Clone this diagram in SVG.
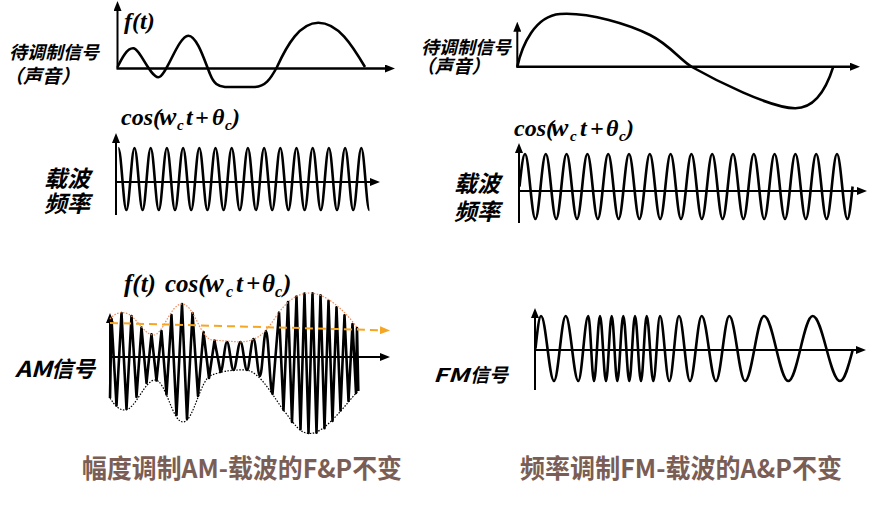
<svg xmlns="http://www.w3.org/2000/svg" width="896" height="512" viewBox="0 0 896 512">
<defs>
<style>
.ax{stroke:#000;stroke-width:2;fill:none;marker-end:url(#ah)}
.axt{stroke:#000;stroke-width:2.6;fill:none;marker-end:url(#ah)}
.wave{stroke:#000;stroke-width:2.6;fill:none;stroke-linejoin:round}
.cn{font-family:"Noto Sans CJK SC","Liberation Sans",sans-serif;font-weight:700;font-style:italic;fill:#000}
.math{font-family:"Liberation Serif","DejaVu Serif",serif;font-weight:700;font-style:italic;fill:#000}
.cap{font-family:"Noto Sans CJK SC","Liberation Sans",sans-serif;font-weight:700;font-size:26px;fill:#7A5E55}
</style>
<marker id="ah" viewBox="0 0 10 8" refX="3" refY="4" markerWidth="10" markerHeight="8" markerUnits="userSpaceOnUse" orient="auto"><path d="M0,0 L10,4 L0,8 z" fill="#000"/></marker>
<marker id="ahy" viewBox="0 0 10 8" refX="3" refY="4" markerWidth="10" markerHeight="8" markerUnits="userSpaceOnUse" orient="auto"><path d="M0,0 L10,4 L0,8 z" fill="#F5A623"/></marker>
</defs>
<rect width="896" height="512" fill="#fff"/>

<g id="signal-left">
<line class="ax" x1="117.5" y1="68.5" x2="117.5" y2="8"/>
<line class="axt" x1="116.5" y1="68.5" x2="388" y2="68.5"/>
<path class="wave" stroke-width="2.3" d="M117.5,67 C122,58 127,48 133.3,48.3 C140,48.5 150,77 158.3,77.3 C166,77.5 178,36 188.3,35.7 C197,35.5 205,62 210,74 C214,84 218,86.5 225,87 L255,87 C265,86.5 270,80 277,67 C287,45 300,22.7 318.3,22.7 C338,22.7 352,45 365,67"/>
<text class="math" x="124" y="29" font-size="24">f(t)</text>
<text class="cn" x="9" y="59" font-size="18">待调制信号</text>
<text class="cn" x="4" y="83" font-size="19">（声音）</text>
</g>

<g id="signal-right">
<line class="ax" x1="517.3" y1="67" x2="517.3" y2="28.7"/>
<line class="axt" x1="516.3" y1="66.7" x2="853" y2="66.7"/>
<path class="wave" stroke-width="1.2" d="M517.3,66.7 C522,45 535,16 560,14 C590,12 630,25 650,35 C670,45 680,60 692,67 C715,80 770,108 795,108.3 C815,108.5 826,90 833.3,66.7"/>
<text class="cn" x="421" y="53.5" font-size="18">待调制信号</text>
<text class="cn" x="416" y="73" font-size="18.5">（声音）</text>
</g>

<g id="carrier-left">
<line class="ax" x1="116" y1="215" x2="116" y2="140"/>
<line class="ax" x1="116" y1="182" x2="373" y2="182"/>
<path class="wave" d="M118.3,148 c2.95,0 5.15,62 8.1,62 s5.15,-62 8.1,-62 s5.15,62 8.1,62 s5.15,-62 8.1,-62 s5.15,62 8.1,62 s5.15,-62 8.1,-62 s5.15,62 8.1,62 s5.15,-62 8.1,-62 s5.15,62 8.1,62 s5.15,-62 8.1,-62 s5.15,62 8.1,62 s5.15,-62 8.1,-62 s5.15,62 8.1,62 s5.15,-62 8.1,-62 s5.15,62 8.1,62 s5.15,-62 8.1,-62 s5.15,62 8.1,62 s5.15,-62 8.1,-62 s5.15,62 8.1,62 s5.15,-62 8.1,-62 s5.15,62 8.1,62 s5.15,-62 8.1,-62 s5.15,62 8.1,62 s5.15,-62 8.1,-62 s5.15,62 8.1,62 s5.15,-62 8.1,-62 s5.15,62 8.1,62 s5.15,-62 8.1,-62 s5.15,62 8.1,62 s5.15,-62 8.1,-62 s5.15,62 8.1,62"/>
<text class="math" y="124.5" font-size="24"><tspan x="121">cos(</tspan><tspan x="159" font-size="26">w</tspan><tspan x="177" dy="5" font-size="15">c</tspan><tspan x="186" dy="-5">t</tspan><tspan x="195">+</tspan><tspan x="212">θ</tspan><tspan x="225" dy="5" font-size="15">c</tspan><tspan x="232" dy="-5">)</tspan></text>
<text class="cn" x="44" y="187" font-size="23">载波</text>
<text class="cn" x="44" y="212" font-size="23">频率</text>
</g>

<g id="carrier-right">
<line class="ax" x1="519" y1="223" x2="519" y2="150"/>
<line class="ax" x1="519" y1="191" x2="860" y2="191"/>
<path class="wave" d="M519.5,186.5 c1.79,-16.6 3.52,-32.5 5.5,-32.5 c3.79,0 6.61,65 10.4,65 s6.61,-65 10.4,-65 s6.61,65 10.4,65 s6.61,-65 10.4,-65 s6.61,65 10.4,65 s6.61,-65 10.4,-65 s6.61,65 10.4,65 s6.61,-65 10.4,-65 s6.61,65 10.4,65 s6.61,-65 10.4,-65 s6.61,65 10.4,65 s6.61,-65 10.4,-65 s6.61,65 10.4,65 s6.61,-65 10.4,-65 s6.61,65 10.4,65 s6.61,-65 10.4,-65 s6.61,65 10.4,65 s6.61,-65 10.4,-65 s6.61,65 10.4,65 s6.61,-65 10.4,-65 s6.61,65 10.4,65 s6.61,-65 10.4,-65 s6.61,65 10.4,65 s6.61,-65 10.4,-65 s6.61,65 10.4,65 s6.61,-65 10.4,-65 s6.61,65 10.4,65 s6.61,-65 10.4,-65 s6.61,65 10.4,65 s6.61,-65 10.4,-65 s6.61,65 10.4,65 c1.87,0 3.5,-15.9 5.2,-32.5"/>
<text class="math" y="135.5" font-size="24"><tspan x="514">cos(</tspan><tspan x="551" font-size="26">w</tspan><tspan x="570" dy="5" font-size="15">c</tspan><tspan x="580" dy="-5">t</tspan><tspan x="590">+</tspan><tspan x="606">θ</tspan><tspan x="619" dy="5" font-size="15">c</tspan><tspan x="626" dy="-5">)</tspan></text>
<text class="cn" x="454" y="192" font-size="23">载波</text>
<text class="cn" x="454" y="220" font-size="23">频率</text>
</g>

<g id="am-signal">
<line class="ax" x1="110" y1="398" x2="110" y2="320"/>
<line class="ax" x1="110" y1="357" x2="383" y2="357"/>
<path class="wave" stroke-width="1.7" d="M110,398 L111.5,319 L116.5,405.5 L121.5,313 L126.5,409 L131.5,316 L136.5,397 L141.5,327.5 L146.5,383 L151.5,334.3 L156.5,380.5 L161.5,331 L166.5,394.5 L171.5,315 L176.5,415 L182,304 L187,419 L192.5,313 L198,396 L203.5,332 L209,378 L214.5,340.5 L220.5,372 C222.87,372 224.63,342 227,342 C229.37,342 231.13,370 233.5,370 C236.05,370 237.95,342 240.5,342 C242.87,342 244.63,370 247,370 C249.37,370 251.13,339 253.5,339 C255.87,339 257.63,376 260,376 C262.18,376 263.82,331 266,331 C268.37,331 270.13,394 272.5,394 L279,312.5 L283.5,410 L288,302 L292,422 L296.5,296.5 L300.5,429.3 L304.5,293.6 L308.5,433 L312.5,293.2 L316.5,432.6 L320.5,295.3 L324.5,428.2 L328.5,300.8 L332.5,421 L336.5,307.2 L340.5,410.4 L344.5,315.4 L348.5,401 L352.5,324 L356,393 L357,328 L358.3,391"/>
<path d="M110,319 C115,313 120,312 125,313 C135,314 143,334 153,335 C163,336 170,304 182,304 C194,304 200,338 212,340 L240,342 C258,341 265,333 275,318 C287,300 298,293 310,293 C325,293 345,310 358,329" fill="none" stroke="#EE8A5A" stroke-width="1.2" stroke-dasharray="1.5 1.5"/>
<path d="M110,398 C115,406 119,410 125,410 C135,410 145,380 155,380 C166,380 172,422 183,422 C194,422 200,378 212,375 C220,372 230,369.5 245,370 C260,370 275,400 285,412 C295,425 300,433.5 310,433.5 C325,433.5 345,405 358,391" fill="none" stroke="#000" stroke-width="1.2" stroke-dasharray="1.5 1.5"/>
<line x1="110" y1="323" x2="383" y2="330.3" stroke="#F5A623" stroke-width="2" stroke-dasharray="8 5" marker-end="url(#ahy)"/>
<text class="math" y="292" font-size="25"><tspan x="124">f(t)</tspan><tspan x="165">cos(</tspan><tspan x="205" font-size="28">w</tspan><tspan x="226" dy="5" font-size="16">c</tspan><tspan x="236" dy="-5">t</tspan><tspan x="246">+</tspan><tspan x="262">θ</tspan><tspan x="275" dy="5" font-size="16">c</tspan><tspan x="283" dy="-5">)</tspan></text>
<text class="cn" y="377" font-size="22"><tspan x="15" textLength="37" lengthAdjust="spacingAndGlyphs">AM</tspan><tspan x="51">信号</tspan></text>
</g>

<g id="fm-signal">
<line class="ax" x1="535" y1="390" x2="535" y2="315"/>
<line class="ax" x1="535" y1="350" x2="859" y2="350"/>
<path class="wave" stroke-width="2.5" d="M535.5,348.5 C537.3,331.8 539,316 541,316 C545.73,316 549.27,381 554,381 C558.26,381 561.44,316 565.7,316 C570.29,316 573.71,381 578.3,381 C581.94,381 584.66,316 588.3,316 C590.37,316 591.93,381 594,381 C596.18,381 597.82,316 600,316 C602.18,316 603.82,381 606,381 C608.07,381 609.63,316 611.7,316 C613.74,316 615.26,381 617.3,381 C619.48,381 621.12,316 623.3,316 C625.48,316 627.12,381 629.3,381 C631.37,381 632.93,316 635,316 C637.18,316 638.82,381 641,381 C643.07,381 644.63,316 646.7,316 C649.1,316 650.9,381 653.3,381 C655.74,381 657.56,316 660,316 C663.39,316 665.91,381 669.3,381 C672.83,381 675.47,316 679,316 C683,316 686,381 690,381 C694.26,381 697.44,316 701.7,316 C706.91,316 710.79,381 716,381 C720.84,381 724.46,316 729.3,316 C735.01,316 739.29,381 745,381 C751.92,381 757.08,316 764,316 C772.85,316 779.45,381 788.3,381 C797.18,381 803.82,316 812.7,316 C822.64,316 830.06,381 840,381 C844.57,381 848.56,365.9 852.7,350"/>
<text class="cn" y="381.5" font-size="19"><tspan x="433" textLength="36" lengthAdjust="spacingAndGlyphs">FM</tspan><tspan x="470">信号</tspan></text>
</g>

<g id="captions">
<text class="cap" x="82" y="478" textLength="320" lengthAdjust="spacingAndGlyphs">幅度调制AM-载波的F&amp;P不变</text>
<text class="cap" x="520" y="478" textLength="322" lengthAdjust="spacingAndGlyphs">频率调制FM-载波的A&amp;P不变</text>
</g>
</svg>
